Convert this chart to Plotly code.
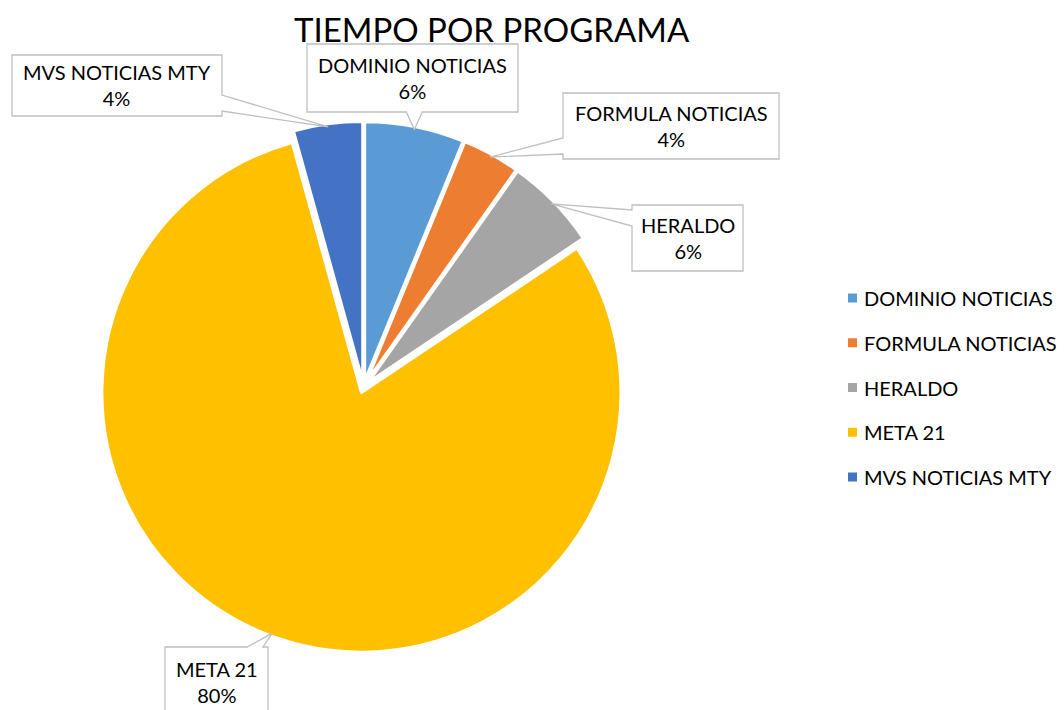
import math
import plotly.graph_objects as go

# ---------------- data ----------------
labels = ["DOMINIO NOTICIAS", "FORMULA NOTICIAS", "HERALDO", "META 21", "MVS NOTICIAS MTY"]
values = [6.2, 3.6, 5.8, 80.1, 4.3]
colors = ["#5B9BD5", "#ED7D31", "#A5A5A5", "#FFC000", "#4472C4"]
chart_title = "TIEMPO POR PROGRAMA"

# ---------------- layout constants (page pixels) ----------------
OFF = 8                      # page body margin
W, H = 1056, 702
CX, CY, R = 363.5, 387, 257.5
PULL = 0.023
FONT = "Lato"
# callout boxes (x0, y0, x1, y1) in px, one per label
label_boxes = [(307, 44, 518, 112), (563, 93, 779, 159), (632, 205, 743, 271),
               (165, 647, 268, 716), (12, 55, 222, 116)]
LEG_X, LEG_Y0, LEG_DY = 848, 298, 44.75


def px(x):
    return (x - OFF) / W


def py(y):
    return 1 - (y - OFF) / H


half_box = (R + 2) * (1 + PULL)
fig = go.Figure(go.Pie(
    labels=labels, values=values, sort=False, direction="clockwise", rotation=0,
    marker=dict(colors=colors, line=dict(color="white", width=3)),
    pull=[PULL] * len(values), textinfo="none", hoverinfo="label+percent",
    showlegend=False,
    domain=dict(x=[px(CX - half_box), px(CX + half_box)],
                y=[py(CY + half_box), py(CY - half_box)]),
))

total = sum(values)
shapes = []
annotations = []


def callout_path(x0, y0, x1, y1, tx, ty, half=8):
    dxo = tx - x1 if tx > x1 else (x0 - tx if tx < x0 else 0)
    dyo = ty - y1 if ty > y1 else (y0 - ty if ty < y0 else 0)
    if dxo >= dyo:
        edge = "right" if tx > x1 else "left"
    else:
        edge = "bottom" if ty > y1 else "top"
    m = 5

    def clamp(v, a, b):
        return max(a, min(b, v))
    pts = [(x0, y0)]
    if edge == "top":
        c = clamp(tx, x0 + half + m, x1 - half - m)
        pts += [(c - half, y0), (tx, ty), (c + half, y0)]
    pts.append((x1, y0))
    if edge == "right":
        c = clamp(ty, y0 + half + m, y1 - half - m)
        pts += [(x1, c - half), (tx, ty), (x1, c + half)]
    pts.append((x1, y1))
    if edge == "bottom":
        c = clamp(tx, x0 + half + m, x1 - half - m)
        pts += [(c + half, y1), (tx, ty), (c - half, y1)]
    pts.append((x0, y1))
    if edge == "left":
        c = clamp(ty, y0 + half + m, y1 - half - m)
        pts += [(x0, c + half), (tx, ty), (x0, c - half)]
    return "M " + " L ".join(f"{px(a):.5f},{py(b):.5f}" for a, b in pts) + " Z"


cum = 0.0
for lab, val, bx in zip(labels, values, label_boxes):
    mid = (cum + val / 2) / total * 2 * math.pi
    cum += val
    rt = R * (1 + PULL) - 1
    tx = CX + rt * math.sin(mid)
    ty = CY - rt * math.cos(mid)
    x0, y0, x1, y1 = bx
    shapes.append(dict(type="path", xref="paper", yref="paper",
                       path=callout_path(x0, y0, x1, y1, tx, ty),
                       fillcolor="white", line=dict(color="#BFBFBF", width=1.3)))
    pct = round(val / total * 100)
    annotations.append(dict(xref="paper", yref="paper", x=px((x0 + x1) / 2), y=py((y0 + y1) / 2),
                            text=f"{lab}<br>{pct}%", showarrow=False, align="center",
                            xanchor="center", yanchor="middle",
                            font=dict(family=FONT, size=20, color="black")))

# legend
for i, (lab, col) in enumerate(zip(labels, colors)):
    yc = LEG_Y0 + i * LEG_DY
    shapes.append(dict(type="rect", xref="paper", yref="paper",
                       x0=px(LEG_X), x1=px(LEG_X + 9), y0=py(yc - 4.5), y1=py(yc + 4.5),
                       fillcolor=col, line=dict(width=0)))
    annotations.append(dict(xref="paper", yref="paper", x=px(LEG_X + 14), y=py(yc),
                            text=lab, showarrow=False, xanchor="left", yanchor="middle",
                            font=dict(family=FONT, size=20, color="black")))

annotations.append(dict(xref="paper", yref="paper", x=px(492), y=1.0, text=chart_title,
                        showarrow=False, xanchor="center", yanchor="top", borderpad=0,
                        font=dict(family=FONT, size=33, color="black")))

fig.update_layout(width=W, height=H, margin=dict(l=0, r=0, t=0, b=0),
                  paper_bgcolor="white", plot_bgcolor="white",
                  shapes=shapes, annotations=annotations, showlegend=False)
fig.write_html("out.html")
